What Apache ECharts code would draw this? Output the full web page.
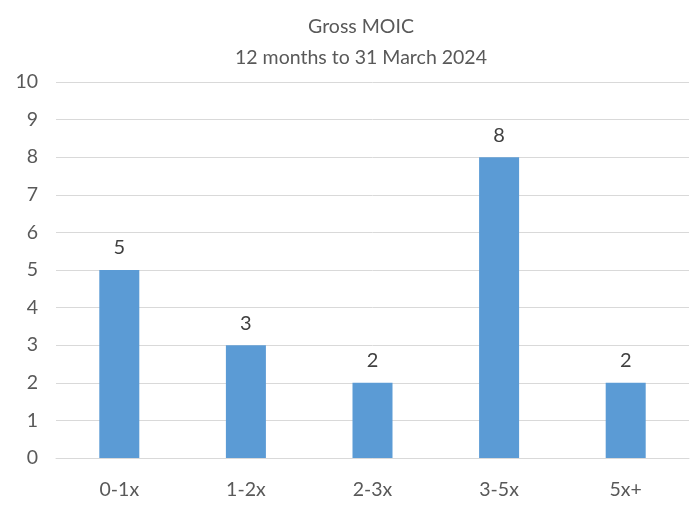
<!DOCTYPE html>
<html>
<head>
<meta charset="utf-8">
<script src="https://cdn.jsdelivr.net/npm/echarts@6/dist/echarts.min.js"></script>
<style>
  html, body { margin: 0; padding: 0; background: #fff; }
  #chart { width: 696px; height: 505px; }
</style>
</head>
<body>
<div id="chart"></div>
<script>
var categories = ['0-1x', '1-2x', '2-3x', '3-5x', '5x+'];
var counts = [5, 3, 2, 8, 2];
var yTicks = { min: 0, max: 10, interval: 1 };

var chart = echarts.init(document.getElementById('chart'));
var textColor = '#595959';

chart.setOption({
    animation: false,
    title: {
        text: 'Gross MOIC\n12 months to 31 March 2024',
        left: 356,
        textAlign: 'center',
        top: 6,
        textStyle: {
            fontFamily: 'Lato',
            fontSize: 19.5,
            fontWeight: 'normal',
            color: textColor,
            lineHeight: 31
        }
    },
    grid: {
        left: 56,
        right: 7,
        top: 82,
        bottom: 47
    },
    xAxis: {
        type: 'category',
        data: categories,
        axisTick: { show: false },
        axisLine: { lineStyle: { color: '#d9d9d9' } },
        axisLabel: {
            color: textColor,
            fontFamily: 'Lato',
            fontSize: 19.5,
            margin: 22
        }
    },
    yAxis: {
        type: 'value',
        min: yTicks.min,
        max: yTicks.max,
        interval: yTicks.interval,
        axisLine: { show: false },
        axisTick: { show: false },
        splitLine: { lineStyle: { color: '#d9d9d9' } },
        axisLabel: {
            color: textColor,
            fontFamily: 'Lato',
            fontSize: 19.5,
            margin: 18
        }
    },
    series: [{
        type: 'bar',
        data: counts,
        barWidth: '31.6%',
        itemStyle: { color: '#5b9bd5' },
        label: {
            show: true,
            position: 'top',
            distance: 12,
            color: '#404040',
            fontFamily: 'Lato',
            fontSize: 20
        }
    }]
});
</script>
</body>
</html>
